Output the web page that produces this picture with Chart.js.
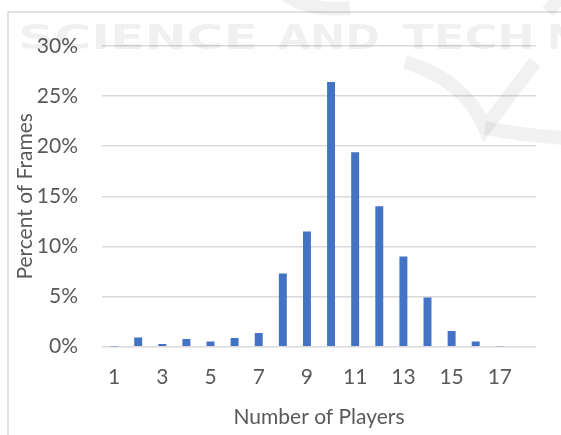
<!DOCTYPE html>
<html>
<head>
<meta charset="utf-8">
<script src="https://cdn.jsdelivr.net/npm/chart.js@4/dist/chart.umd.min.js"></script>
<style>
  html, body { margin: 0; padding: 0; background: #ffffff; }
  #wrap { width: 561px; height: 435px; position: relative; }
</style>
</head>
<body>
<div id="wrap"><canvas id="c" width="561" height="435"></canvas></div>
<script>
// ---- data ----
const categories = ['1','2','3','4','5','6','7','8','9','10','11','12','13','14','15','16','17','18'];
const percentFrames = [0.02, 0.93, 0.27, 0.77, 0.53, 0.87, 1.37, 7.3, 11.5, 26.4, 19.4, 14.0, 9.0, 4.9, 1.57, 0.53, 0.05, null];
const yTickValues = [0, 5, 10, 15, 20, 25, 30];
const xTitle = 'Number of Players';
const yTitle = 'Percent of Frames';
const watermarkWords = ['SCIENCE', 'AND', 'TECH', 'N'];

const FONT = 'Lato';
const TEXT = '#595959';

const backdrop = {
  id: 'backdrop',
  beforeDraw(chart) {
    const ctx = chart.ctx;
    ctx.save();
    ctx.fillStyle = '#ffffff';
    ctx.fillRect(0, 0, chart.width, chart.height);
    ctx.strokeStyle = '#d9d9d9';
    ctx.lineWidth = 1.5;
    ctx.beginPath();
    ctx.moveTo(8, chart.height);
    ctx.lineTo(8, 12);
    ctx.lineTo(chart.width, 12);
    ctx.stroke();
    ctx.restore();
  },
  afterDraw(chart) {
    const ctx = chart.ctx;
    ctx.save();
    ctx.fillStyle = 'rgba(0,0,0,0.06)';
    ctx.font = 'bold 34px "DejaVu Sans"';
    ctx.textBaseline = 'alphabetic';
    const spans = [[18, 258], [278, 380], [403, 535], [547, 580]];
    watermarkWords.forEach((w, i) => {
      const [x0, x1] = spans[i];
      const mw = ctx.measureText(w).width;
      ctx.save();
      ctx.translate(x0, 49);
      ctx.scale((x1 - x0) / mw, 1);
      ctx.fillText(w, 0, 0);
      ctx.restore();
    });
    // faint logo strokes
    ctx.strokeStyle = 'rgba(0,0,0,0.055)';
    ctx.lineWidth = 14;
    ctx.beginPath();
    ctx.moveTo(285, -6);
    ctx.quadraticCurveTo(310, 12, 350, 8);
    ctx.stroke();
    ctx.beginPath();
    ctx.moveTo(405, 62);
    ctx.quadraticCurveTo(465, 80, 485, 128);
    ctx.lineTo(535, 62);
    ctx.stroke();
    ctx.beginPath();
    ctx.moveTo(485, 128);
    ctx.quadraticCurveTo(520, 135, 565, 138);
    ctx.stroke();
    ctx.beginPath();
    ctx.moveTo(548, 12);
    ctx.lineTo(560, -4);
    ctx.stroke();
    ctx.restore();
  }
};

new Chart(document.getElementById('c'), {
  type: 'bar',
  data: {
    labels: categories,
    datasets: [{
      data: percentFrames,
      backgroundColor: '#4472c4',
      borderWidth: 0,
      categoryPercentage: 1,
      barPercentage: 0.33
    }]
  },
  options: {
    responsive: false,
    animation: false,
    events: [],
    layout: { padding: { left: 8, right: 25, top: 46, bottom: 0 } },
    plugins: { legend: { display: false }, tooltip: { enabled: false } },
    scales: {
      x: {
        grid: { display: false, drawTicks: false },
        border: { display: false },
        ticks: {
          autoSkip: false,
          maxRotation: 0,
          padding: 18,
          color: TEXT,
          font: { family: FONT, size: 21 },
          callback: function(v, i) { return (i % 2 === 0) ? categories[i] : ''; }
        },
        title: {
          display: true,
          text: xTitle,
          color: TEXT,
          font: { family: FONT, size: 21 },
          padding: { top: 0, bottom: 5 }
        },
        afterFit: function(s) { s.height = 88.3; }
      },
      y: {
        min: 0,
        max: 30,
        afterBuildTicks: function(s) { s.ticks = yTickValues.map(v => ({ value: v })); },
        grid: { color: '#d9d9d9', lineWidth: 1.5, drawTicks: false },
        border: { display: false },
        ticks: {
          padding: 24,
          color: TEXT,
          font: { family: FONT, size: 21 },
          callback: function(v) { return v + '%'; }
        },
        title: {
          display: true,
          text: yTitle,
          color: TEXT,
          font: { family: FONT, size: 21 },
          padding: { top: 5, bottom: 0 }
        },
        afterFit: function(s) { s.width = 94; }
      }
    }
  },
  plugins: [backdrop]
});
</script>
</body>
</html>
